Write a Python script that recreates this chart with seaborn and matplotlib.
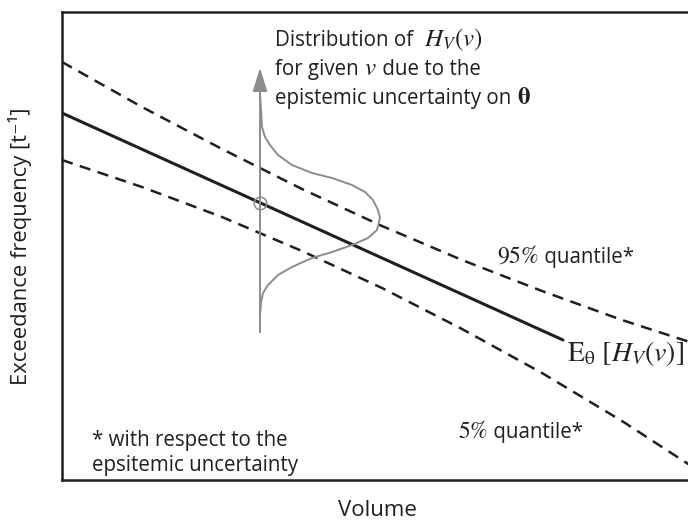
import matplotlib
matplotlib.use('Agg')
import matplotlib.pyplot as plt
import seaborn as sns
import pandas as pd
import numpy as np

# Hazard curve schematic: exceedance frequency vs volume (arbitrary units)

vol_mean = [0, 501]
freq_mean = [367, 140]

vol_q = [0, 80, 160, 240, 320, 400, 480, 560, 640]
freq_q95 = [418, 373, 331, 291, 254, 220, 189, 160, 134]
freq_q05 = [320, 293, 263, 229, 192, 151, 107, 59, 7]

# distribution of H_V(v) for the given volume (drawn sideways)
v_given = 198
dens_freq = [385, 370, 353, 343, 335, 325, 315, 307, 302, 295, 288, 280, 270,
             262, 250, 242, 235, 228, 222, 213, 205, 195, 187, 177, 165]
dens_width = [0, 1, 2, 5, 10, 18, 32, 52, 72, 92, 105, 113, 118,
              120, 117, 108, 92, 72, 52, 32, 18, 8, 3, 1, 0]
arrow_from = 145
arrow_to = 415

sns.set_style('white')
plt.rcParams['font.family'] = ['Open Sans', 'DejaVu Sans']
plt.rcParams['mathtext.fontset'] = 'stix'

ink = '#231f20'
grey = '#8c8c8c'

fig = plt.figure(figsize=(6.88, 5.23), dpi=100)
ax = fig.add_axes([62/688, 43/523, 630/688, 468/523])

df_mean = pd.DataFrame({'Volume': vol_mean, 'Freq': freq_mean})
df_q = pd.DataFrame({'Volume': vol_q, 'q95': freq_q95, 'q05': freq_q05})

sns.lineplot(data=df_mean, x='Volume', y='Freq', color=ink, lw=2.2, ax=ax)
sns.lineplot(data=df_q, x='Volume', y='q95', color=ink, lw=1.8, ax=ax)
ax.lines[-1].set_dashes([4.5, 3])
sns.lineplot(data=df_q, x='Volume', y='q05', color=ink, lw=1.8, ax=ax)
ax.lines[-1].set_dashes([4.5, 3])

dens_x = [v_given + w for w in dens_width]
ax.plot(dens_x, dens_freq, color=grey, lw=1.4)

ax.annotate('', xy=(v_given, arrow_to), xytext=(v_given, arrow_from),
            arrowprops=dict(arrowstyle='-|>,head_length=0.9,head_width=0.28',
                            color=grey, lw=1.4, mutation_scale=16))
ax.plot([v_given], [np.interp(v_given, vol_mean, freq_mean)], 'o', mfc='none',
        mec=grey, ms=9, mew=1.1)

ax.set_xlim(0, 630)
ax.set_ylim(0, 468)
ax.set_xticks([])
ax.set_yticks([])
ax.set_xlabel('')
ax.set_ylabel('')
for s in ax.spines.values():
    s.set_color(ink)
    s.set_linewidth(1.8)

fig.canvas.draw()
renderer = fig.canvas.get_renderer()


def rich_text(x, y, parts):
    # parts: list of (string, fontsize); placed one after another on a baseline
    px, py = ax.transData.transform((x, y))
    for s, size in parts:
        t = fig.text(px / fig.bbox.width, py / fig.bbox.height, s, fontsize=size,
                     va='baseline', ha='left', color=ink)
        px += t.get_window_extent(renderer).width


fs = 14.8
ms = 18
rich_text(213, 434, [('Distribution of  ', fs), (r'$H_V(v)$', ms)])
rich_text(213, 405, [('for given ', fs), (r'$v$', ms), (' due to the', fs)])
rich_text(213, 376, [('epistemic uncertainty on ', fs), (r'$\mathbf{\theta}$', ms)])

rich_text(435, 217, [(r'$\mathrm{95\%}$', 17), (' quantile*', fs)])
rich_text(396, 42, [(r'$\mathrm{5\%}$', 17), (' quantile*', fs)])
rich_text(505, 119, [(r'$\mathrm{E}_{\mathrm{\theta}}\ [H_V(v)]$', 20)])

rich_text(30, 34, [('* with respect to the', fs)])
rich_text(30, 9, [('epsitemic uncertainty', fs)])

fig.text(377/688, 1 - 510/523, 'Volume', fontsize=16, ha='center', va='center', color=ink)
fig.text(20/688, 1 - 246/523, 'Exceedance frequency [t⁻¹]', fontsize=15.8, rotation=90,
         ha='center', va='center', color=ink)

fig.savefig('out.png', dpi=100)
